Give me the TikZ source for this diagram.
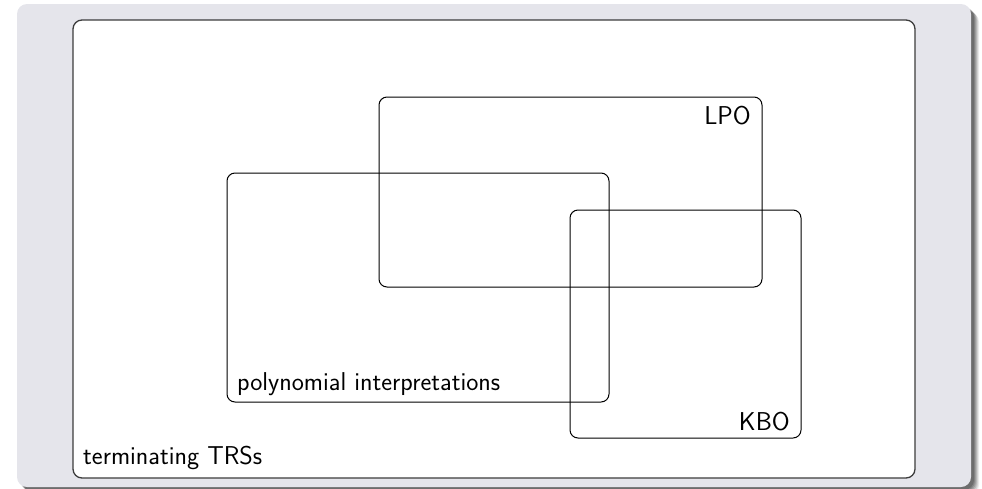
\documentclass[tikz,border=0pt]{standalone}
\definecolor{blockbg}{RGB}{229,229,235}
\definecolor{frameline}{RGB}{60,60,60}
\tikzset{
  setbox/.style={draw=black, line width=1pt, rounded corners=8pt},
  outerbox/.style={draw=frameline, fill=white, line width=1.3pt, rounded corners=9pt},
  lbl/.style={font=\fontsize{25.8}{30}\selectfont\sffamily, inner sep=0pt, text=black},
}
\begin{document}
\begin{tikzpicture}[x=1pt,y=-1pt]
\useasboundingbox (0,0) rectangle (982,488);
% shadow
\foreach \o/\a in {8/0.08,7/0.1,6/0.12,5/0.14,4/0.16,3/0.18}{
  \fill[black, opacity=\a, rounded corners=10pt] (17+\o,4+\o) rectangle (971+\o,487+\o);
}
\fill[blockbg, rounded corners=10pt] (17,4) rectangle (971,487);
% outer set
\draw[outerbox] (73,20) rectangle (915,478);
% inner sets
\draw[setbox] (379,97) rectangle (762,287);
\draw[setbox] (227,173) rectangle (609,402);
\draw[setbox] (570,210) rectangle (801,438);
% labels
\node[lbl, anchor=base west] (trs) at (83,464) {terminating TRSs};
\node[lbl, anchor=base west] (poly) at (237,390) {polynomial interpretations};
\node[lbl, anchor=base east] (kbo) at (790,430) {KBO};
\node[lbl, anchor=base east] (lpo) at (751,124) {LPO};
\end{tikzpicture}
\end{document}
